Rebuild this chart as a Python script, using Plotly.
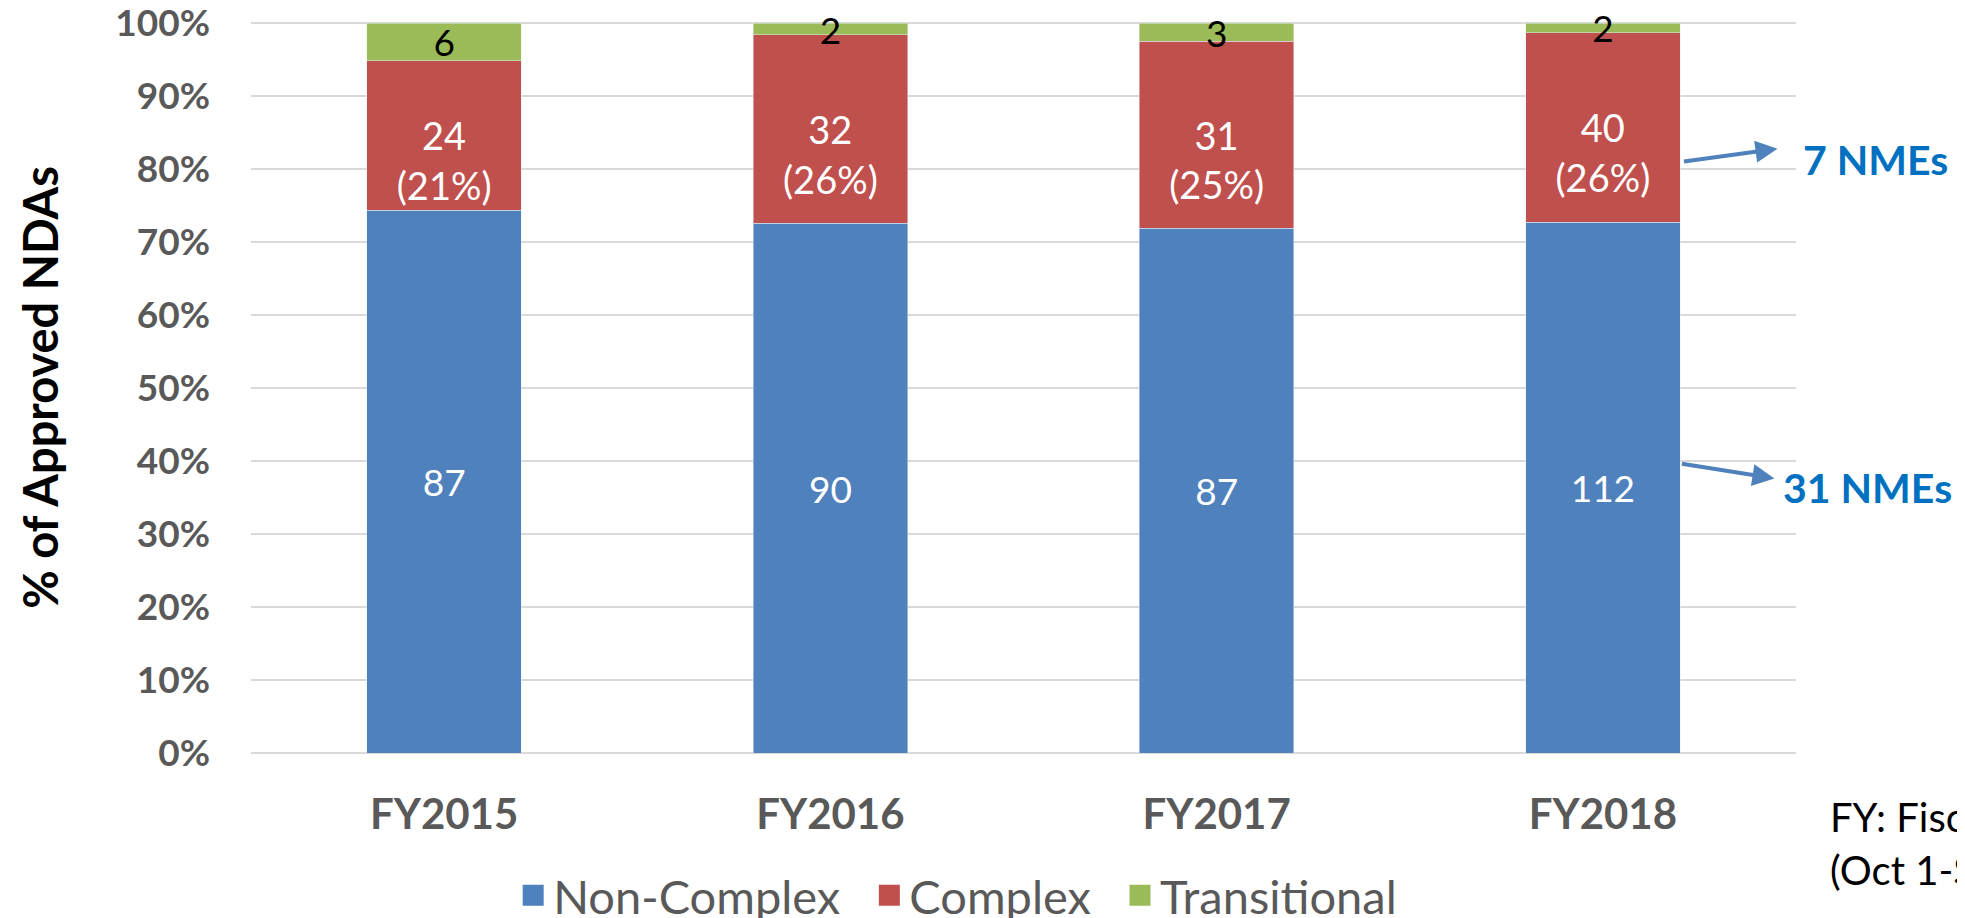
import plotly.graph_objects as go

years = ["FY2015", "FY2016", "FY2017", "FY2018"]
non_complex = [87, 90, 87, 112]
complex_ = [24, 32, 31, 40]
transitional = [6, 2, 3, 2]
complex_pct_labels = ["(21%)", "(26%)", "(25%)", "(26%)"]

series_names = ["Non-Complex", "Complex", "Transitional"]
colors = ["#4F81BD", "#C0504D", "#9BBB59"]
y_ticks = [0, 10, 20, 30, 40, 50, 60, 70, 80, 90, 100]

FONT = "Lato"
GRAY = "#595959"

fig = go.Figure()

# Bars (normalized to percent of approved NDAs per year)
fig.add_trace(go.Bar(
    x=years, y=non_complex, name=series_names[0], marker_color=colors[0],
    text=[str(v) for v in non_complex], textposition="inside", insidetextanchor="middle",
    textangle=0, constraintext="none", textfont=dict(family=FONT, size=37, color="white"),
    showlegend=False, legendgroup="nc", cliponaxis=False,
))
fig.add_trace(go.Bar(
    x=years, y=complex_, name=series_names[1], marker_color=colors[1],
    text=["\u00a0<br>%d<br>%s" % (v, p) for v, p in zip(complex_, complex_pct_labels)],
    textposition="inside", insidetextanchor="middle",
    textangle=0, constraintext="none", textfont=dict(family=FONT, size=38, color="white"),
    showlegend=False, legendgroup="c", cliponaxis=False,
))
fig.add_trace(go.Bar(
    x=years, y=transitional, name=series_names[2], marker_color=colors[2],
    text=[str(v) for v in transitional], textposition="inside", insidetextanchor="middle",
    textangle=0, constraintext="none", textfont=dict(family=FONT, size=37, color="black"),
    showlegend=False, legendgroup="t", cliponaxis=False,
))

# Legend entries (square markers, larger than the default bar swatch);
# trailing non-breaking spaces widen the gap between entries
for nm, col, grp in zip(series_names, colors, ["nc", "c", "t"]):
    fig.add_trace(go.Scatter(
        x=[None], y=[None], mode="markers", name=nm + "\u00a0\u00a0", legendgroup=grp,
        marker=dict(symbol="square", size=16, color=col, line=dict(color=col, width=5)),
        showlegend=True,
    ))

# The page body adds an 8px margin, so the figure is 8px smaller than the window
fig.update_layout(
    width=1957, height=910,
    barmode="stack", barnorm="percent", bargap=0.6,
    plot_bgcolor="white", paper_bgcolor="white",
    margin=dict(l=243, r=169, t=13, b=165, autoexpand=False),
    font=dict(family=FONT, color=GRAY),
    legend=dict(
        orientation="h", x=0.1697, xanchor="left", y=-0.195, yanchor="middle",
        font=dict(family=FONT, size=47, color=GRAY), itemsizing="trace",
        traceorder="normal", bgcolor="rgba(0,0,0,0)",
    ),
    xaxis=dict(
        showgrid=False, showline=False, ticks="", automargin=False,
        tickfont=dict(family=FONT, size=42, color=GRAY, weight="bold"),
        ticklabelstandoff=33,
    ),
    yaxis=dict(
        range=[0, 100.3], tickvals=y_ticks,
        ticktext=["%d%%" % v for v in y_ticks],
        showgrid=True, gridcolor="#D9D9D9", gridwidth=2, automargin=False,
        zeroline=True, zerolinecolor="#D9D9D9", zerolinewidth=2,
        tickfont=dict(family=FONT, size=37, color=GRAY, weight="bold"),
        ticklabelstandoff=40, ticklabeloverflow="allow",
    ),
    annotations=[
        dict(text="% of Approved NDAs", textangle=-90, xref="paper", yref="paper",
             x=-0.1367, y=0.5, xanchor="center", yanchor="middle", showarrow=False,
             font=dict(family=FONT, size=47, color="black", weight="bold")),
        dict(text="7 NMEs", xref="paper", yref="paper", x=1.0035, y=0.811,
             xanchor="left", yanchor="middle", showarrow=False,
             font=dict(family=FONT, size=41, color="#0070C0", weight="bold")),
        dict(text="31 NMEs", xref="paper", yref="paper", x=0.9903, y=0.363,
             xanchor="left", yanchor="middle", showarrow=False,
             font=dict(family=FONT, size=41, color="#0070C0", weight="bold")),
        dict(text="", xref="paper", yref="paper", x=0.988, y=0.8256,
             ax=-95, ay=13, axref="pixel", ayref="pixel", showarrow=True,
             arrowhead=2, arrowsize=1.1, arrowwidth=4, arrowcolor="#4F81BD"),
        dict(text="", xref="paper", yref="paper", x=0.986, y=0.375,
             ax=-94, ay=-15, axref="pixel", ayref="pixel", showarrow=True,
             arrowhead=2, arrowsize=1.1, arrowwidth=4, arrowcolor="#4F81BD"),
        dict(text="FY: Fiscal Year", xref="paper", yref="paper", x=1.0207, y=-0.0876,
             xanchor="left", yanchor="middle", showarrow=False,
             font=dict(family=FONT, size=40, color="black")),
        dict(text="(Oct 1-Sep 30)", xref="paper", yref="paper", x=1.0207, y=-0.16,
             xanchor="left", yanchor="middle", showarrow=False,
             font=dict(family=FONT, size=40, color="black")),
    ],
)

fig.write_html("out.html")
